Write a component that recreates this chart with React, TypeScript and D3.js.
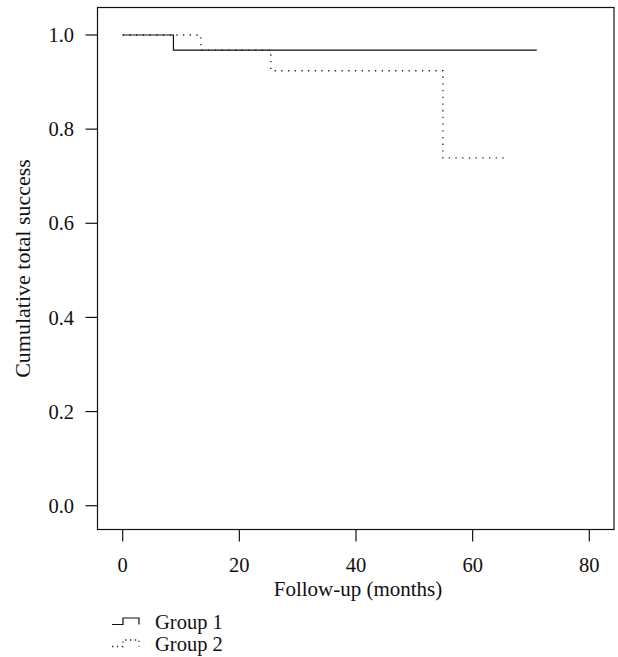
import React from "react";
import * as d3 from "d3";

const group1Times = [0, 8.7, 71.0];
const group1Surv = [1.0, 0.968, 0.968];
const group2Times = [0, 13.4, 25.4, 54.9, 65.4];
const group2Surv = [1.0, 0.968, 0.924, 0.739, 0.739];
const xTicks = [0, 20, 40, 60, 80];
const yTicks = [0, 0.2, 0.4, 0.6, 0.8, 1.0];
const xLabel = "Follow-up (months)";
const yLabel = "Cumulative total success";
const legendLabels = ["Group 1", "Group 2"];

const W = 618;
const H = 657;
const box = { left: 97.5, right: 614, top: 7.5, bottom: 529.5 };
const FONT = "'Liberation Serif', 'Times New Roman', serif";
const FS = 20.5;

export default function App() {
  const x = d3.scaleLinear().domain([0, 80]).range([122.7, 589.3]);
  const y = d3.scaleLinear().domain([0, 1]).range([505.7, 35]);
  const line = d3
    .line<[number, number]>()
    .x((d) => x(d[0]))
    .y((d) => y(d[1]))
    .curve(d3.curveStepAfter);
  const g1: [number, number][] = group1Times.map((t, i) => [t, group1Surv[i]]);
  const g2: [number, number][] = group2Times.map((t, i) => [t, group2Surv[i]]);
  const dots = "1.3 5.4";
  const tickLen = 12;

  return (
    <svg
      width={W}
      height={H}
      style={{ position: "absolute", left: 0, top: 0, background: "#fff" }}
      fontFamily={FONT}
    >
      <rect x={0} y={0} width={W} height={H} fill="#fff" />
      <rect
        x={box.left}
        y={box.top}
        width={box.right - box.left}
        height={box.bottom - box.top}
        fill="none"
        stroke="#111"
        strokeWidth={1.2}
      />
      <path d={line(g2) || ""} fill="none" stroke="#222" strokeWidth={1.3} strokeDasharray={dots} />
      <path d={line(g1) || ""} fill="none" stroke="#111" strokeWidth={1.2} />
      {xTicks.map((t) => (
        <g key={"x" + t}>
          <line x1={x(t)} x2={x(t)} y1={box.bottom} y2={box.bottom + tickLen} stroke="#111" strokeWidth={1.2} />
          <text x={x(t)} y={572} textAnchor="middle" fontSize={FS} fill="#111">
            {t}
          </text>
        </g>
      ))}
      {yTicks.map((t) => (
        <g key={"y" + t}>
          <line x1={box.left - tickLen} x2={box.left} y1={y(t)} y2={y(t)} stroke="#111" strokeWidth={1.2} />
          <text x={74} y={y(t)} dy="0.35em" textAnchor="end" fontSize={FS} fill="#111">
            {t.toFixed(1)}
          </text>
        </g>
      ))}
      <text x={358} y={596} textAnchor="middle" fontSize={21} fill="#111">
        {xLabel}
      </text>
      <text
        transform={`translate(30,${(box.top + box.bottom) / 2}) rotate(-90)`}
        textAnchor="middle"
        fontSize={22}
        fill="#111"
      >
        {yLabel}
      </text>
      <path d="M112,624.5 H123 V618 H139 V624.5" fill="none" stroke="#111" strokeWidth={1.2} />
      <path d="M112,646.5 H123 V640 H139 V646.5" fill="none" stroke="#222" strokeWidth={1.3} strokeDasharray="1.3 3.6" />
      {legendLabels.map((l, i) => (
        <text key={l} x={155} y={628.5 + i * 22} fontSize={FS} fill="#111">
          {l}
        </text>
      ))}
    </svg>
  );
}
